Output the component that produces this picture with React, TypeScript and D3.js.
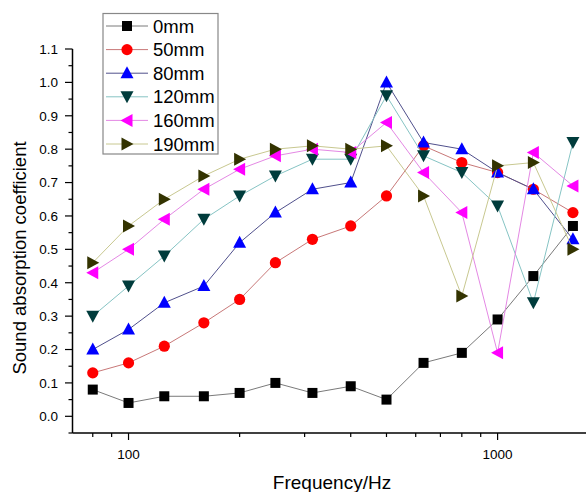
import React from "react";
import * as d3 from "d3";

// frequencies (Hz)
const freqs = [80, 100, 125, 160, 200, 250, 315, 400, 500, 630, 800, 1000, 1250, 1600];

const s0mm = [0.08, 0.04, 0.06, 0.06, 0.07, 0.1, 0.07, 0.09, 0.05, 0.16, 0.19, 0.29, 0.42, 0.57];
const s50mm = [0.13, 0.16, 0.21, 0.28, 0.35, 0.46, 0.53, 0.57, 0.66, 0.81, 0.76, 0.73, 0.68, 0.61];
const s80mm = [0.2, 0.26, 0.34, 0.39, 0.52, 0.61, 0.68, 0.7, 1.0, 0.82, 0.8, 0.73, 0.68, 0.53];
const s120mm = [0.3, 0.39, 0.48, 0.59, 0.66, 0.72, 0.77, 0.77, 0.96, 0.78, 0.73, 0.63, 0.34, 0.82];
const s160mm = [0.43, 0.5, 0.59, 0.68, 0.74, 0.78, 0.8, 0.79, 0.88, 0.73, 0.61, 0.19, 0.79, 0.69];
const s190mm = [0.46, 0.57, 0.65, 0.72, 0.77, 0.8, 0.81, 0.8, 0.81, 0.66, 0.36, 0.75, 0.76, 0.5];

const yTicks = [0.0, 0.1, 0.2, 0.3, 0.4, 0.5, 0.6, 0.7, 0.8, 0.9, 1.0, 1.1];
const xMajor = [100, 1000];
const xMinor = [80, 90, 200, 300, 400, 500, 600, 700, 800, 900];

const series = [
  { name: "0mm", values: s0mm, shape: "square", fill: "#000000", line: "#7a7a7a" },
  { name: "50mm", values: s50mm, shape: "circle", fill: "#ff0000", line: "#c87878" },
  { name: "80mm", values: s80mm, shape: "up", fill: "#0000ff", line: "#50508c" },
  { name: "120mm", values: s120mm, shape: "down", fill: "#003c3c", line: "#86c4c4" },
  { name: "160mm", values: s160mm, shape: "left", fill: "#ff00ff", line: "#e488e4" },
  { name: "190mm", values: s190mm, shape: "right", fill: "#333300", line: "#c8c890" },
];

const font = "Arial, 'Liberation Sans', sans-serif";

function Marker({ shape, fill, x, y }) {
  if (shape === "square") {
    return <rect x={x - 5} y={y - 5} width={10} height={10} fill={fill} />;
  }
  if (shape === "circle") {
    return <circle cx={x} cy={y} r={5.6} fill={fill} />;
  }
  const rot = { up: 0, down: 180, left: -90, right: 90 }[shape];
  const tri = "M0,-6.5L6.5,5.5L-6.5,5.5Z";
  return <path d={tri} fill={fill} transform={`translate(${x},${y - (shape === "up" ? 0.5 : 0)}) rotate(${rot})`} />;
}

export default function App() {
  const width = 586,
    height = 492;
  const x = d3.scaleLog().domain([70.5, 1736]).range([72.5, 586]);
  const y = d3.scaleLinear().domain([-0.05, 1.1]).range([433, 49]);

  const minorY = d3.range(0, 23).map((i) => -0.05 + i * 0.1);

  const line = d3
    .line()
    .x((d) => x(d[0]))
    .y((d) => y(d[1]));

  return (
    <svg width={width} height={height} style={{ position: "absolute", left: 0, top: 0, background: "#fff" }}>
      {/* axes */}
      <line x1={72.5} x2={586} y1={433} y2={433} stroke="#000" strokeWidth={1.5} />
      <line x1={72.5} x2={72.5} y1={49} y2={433} stroke="#000" strokeWidth={1.5} />

      {yTicks.map((t) => (
        <g key={"yt" + t}>
          <line x1={65} x2={72.5} y1={y(t)} y2={y(t)} stroke="#000" strokeWidth={1.2} />
          <text x={58} y={y(t) + 4.8} textAnchor="end" fontSize={13.5} fontFamily={font}>
            {t.toFixed(1)}
          </text>
        </g>
      ))}
      {minorY
        .filter((t) => t < 1.1)
        .map((t) => (
          <line key={"ym" + t} x1={68.5} x2={72.5} y1={y(t)} y2={y(t)} stroke="#000" strokeWidth={1.2} />
        ))}

      {xMajor.map((t) => (
        <g key={"xt" + t}>
          <line x1={x(t)} x2={x(t)} y1={433} y2={440} stroke="#000" strokeWidth={1.2} />
          <text x={x(t)} y={459} textAnchor="middle" fontSize={13.5} fontFamily={font}>
            {t}
          </text>
        </g>
      ))}
      {xMinor.map((t) => (
        <line key={"xm" + t} x1={x(t)} x2={x(t)} y1={433} y2={437} stroke="#000" strokeWidth={1.2} />
      ))}

      <text
        transform="translate(26,258) rotate(-90)"
        textAnchor="middle"
        fontSize={18.5}
        fontFamily={font}
      >
        Sound absorption coefficient
      </text>
      <text x={332} y={489} textAnchor="middle" fontSize={19} fontFamily={font}>
        Frequency/Hz
      </text>

      {/* series */}
      {series.map((s) => {
        const pts = freqs.map((f, i) => [f, s.values[i]]);
        return (
          <g key={s.name}>
            <path d={line(pts)} fill="none" stroke={s.line} strokeWidth={1} />
            {pts.map((p, i) => (
              <Marker key={i} shape={s.shape} fill={s.fill} x={x(p[0])} y={y(p[1])} />
            ))}
          </g>
        );
      })}

      {/* legend */}
      <rect x={103} y={13.5} width={115} height={140.5} fill="#fff" stroke="#888" strokeWidth={1.2} />
      {series.map((s, i) => {
        const ly = 26 + i * 23.6;
        return (
          <g key={"lg" + s.name}>
            <line x1={106} x2={148} y1={ly} y2={ly} stroke={s.line} strokeWidth={1} />
            <Marker shape={s.shape} fill={s.fill} x={127} y={ly} />
            <text x={153} y={ly + 6.5} fontSize={18.5} fontFamily={font}>
              {s.name}
            </text>
          </g>
        );
      })}
    </svg>
  );
}
